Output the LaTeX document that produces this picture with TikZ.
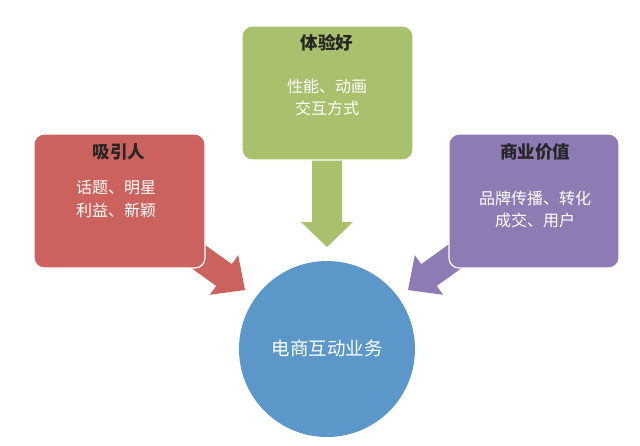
\documentclass[tikz,border=0pt]{standalone}
\usepackage{fontspec}
\newfontfamily\cjk{Noto Sans CJK SC}
\definecolor{cred}{HTML}{CB625D}
\definecolor{cgreen}{HTML}{A9C06C}
\definecolor{cpurple}{HTML}{8F7BB4}
\definecolor{cblue}{HTML}{5B97C9}
\begin{document}
\begin{tikzpicture}[x=1pt,y=-1pt,
  box/.style={draw=white,line width=1.2pt,rounded corners=10pt},
  ttl/.style={font=\cjk\bfseries\fontsize{17.5}{19}\selectfont,text=black!85},
  body/.style={font=\cjk\fontsize{16}{18}\selectfont,text=white},
  blockarrow/.style={draw=none}]
\useasboundingbox (0,0) rectangle (640,445);
% arrows (under boxes)
\fill[cred,blockarrow] (199.4,240.9) -- (231.8,264.1) -- (238.2,255.2) -- (245,290) -- (209.8,294.8) -- (216.2,285.9) -- (183.8,262.7) -- cycle;
\fill[cpurple,blockarrow] (453.6,240.9) -- (421.2,264.1) -- (414.8,255.2) -- (408,290) -- (443.2,294.8) -- (436.8,285.9) -- (469.2,262.7) -- cycle;
\fill[cgreen,blockarrow] (312,150) -- (342,150) -- (342,222) -- (353,222) -- (327,247) -- (301,222) -- (312,222) -- cycle;
% boxes
\filldraw[box,fill=cred] (34,134) rectangle (205,268);
\filldraw[box,fill=cgreen] (242,26) rectangle (413,160);
\filldraw[box,fill=cpurple] (449,134) rectangle (619,268);
% circle
\node[circle,fill=cblue,minimum size=176pt,inner sep=0pt] (c) at (327,349) {};
\node[font=\cjk\fontsize{18.5}{20}\selectfont,text=white] (ct) at (327,348) {电商互动业务};
% texts
\node[ttl] (t1) at (119,152) {吸引人};
\node[body] (b1a) at (116,188) {话题、明星};
\node[body] (b1b) at (116,210) {利益、新颖};
\node[ttl] (t2) at (327,43) {体验好};
\node[body] (b2a) at (327,86) {性能、动画};
\node[body] (b2b) at (327,108) {交互方式};
\node[ttl] (t3) at (535,152) {商业价值};
\node[body] (b3a) at (535,198) {品牌传播、转化};
\node[body] (b3b) at (535,220) {成交、用户};
\end{tikzpicture}
\end{document}
